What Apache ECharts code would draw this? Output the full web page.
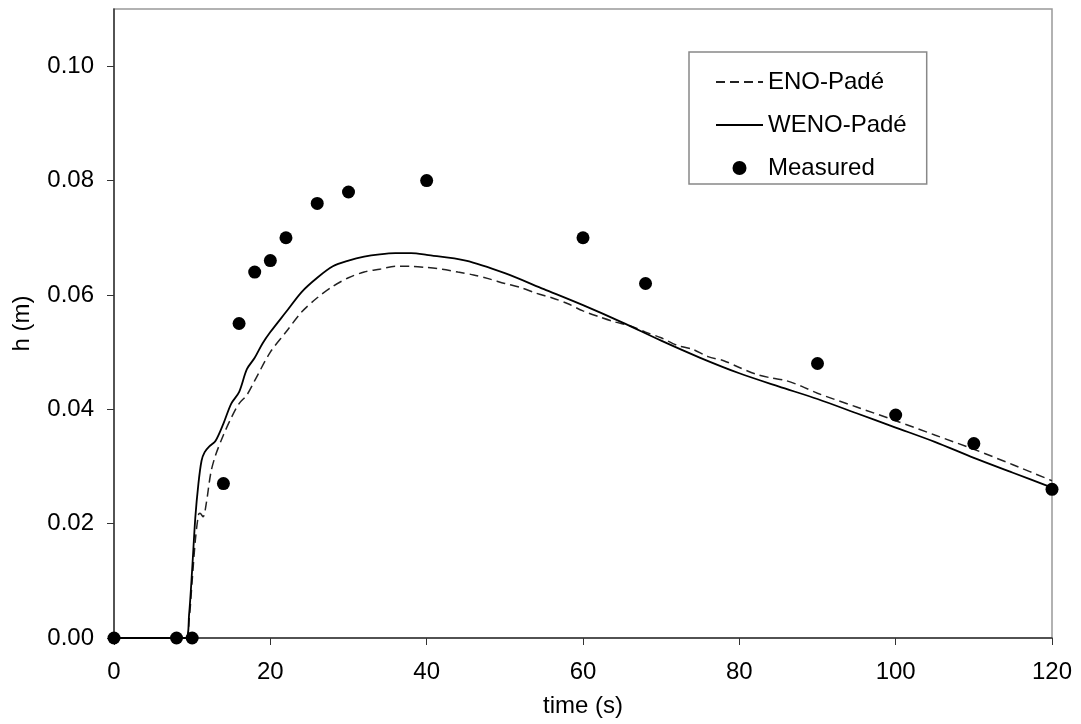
<!DOCTYPE html>
<html>
<head>
<meta charset="utf-8">
<script src="https://cdn.jsdelivr.net/npm/echarts@6/dist/echarts.min.js"></script>
<style>html,body{margin:0;padding:0;background:#fff}#c{width:1081px;height:724px}</style>
</head>
<body>
<div id="c"></div>
<script>
const xTicks = [0, 20, 40, 60, 80, 100, 120];
const yTicks = [0, 0.02, 0.04, 0.06, 0.08, 0.10];

const enoTime = [0, 9.2, 9.6, 10.0, 10.4, 10.8, 11.0, 11.4, 11.8, 12.4, 13.0, 14.0, 15.0, 16.0, 17.0, 18, 20, 22, 24, 26, 28, 30, 32, 34, 36, 38, 40, 42, 44, 46, 48, 50, 52, 54, 56, 58, 60, 62, 64, 66, 68, 70, 72, 74, 76, 78, 80, 82, 84, 86, 88, 90, 95, 100, 105, 110, 115, 120];
const enoH = [0, 0, 0.003, 0.010, 0.017, 0.0215, 0.0218, 0.0212, 0.0235, 0.029, 0.032, 0.0355, 0.0385, 0.041, 0.0425, 0.045, 0.050, 0.0535, 0.057, 0.0595, 0.0615, 0.063, 0.064, 0.0645, 0.065, 0.065, 0.0648, 0.0645, 0.064, 0.0635, 0.0628, 0.0620, 0.0613, 0.0603, 0.0595, 0.0585, 0.0572, 0.0562, 0.0553, 0.0546, 0.0535, 0.0525, 0.0512, 0.0505, 0.0492, 0.0485, 0.0473, 0.0462, 0.0455, 0.0450, 0.0440, 0.0428, 0.0404, 0.038, 0.0355, 0.0330, 0.0303, 0.0275];

const wenoTime = [0, 9.2, 9.6, 10.0, 10.4, 10.8, 11.2, 11.6, 12.2, 13.0, 14.0, 15.0, 16.0, 17.0, 18.0, 19.0, 20, 22, 24, 26, 28, 30, 32, 34, 36, 38, 40, 45, 50, 55, 60, 65, 70, 75, 80, 85, 90, 95, 100, 105, 110, 115, 120];
const wenoH = [0, 0, 0.004, 0.012, 0.021, 0.027, 0.031, 0.0325, 0.0335, 0.0345, 0.0375, 0.041, 0.043, 0.047, 0.049, 0.0515, 0.0535, 0.057, 0.0605, 0.063, 0.065, 0.066, 0.0667, 0.0671, 0.0673, 0.0673, 0.0670, 0.0660, 0.0638, 0.0610, 0.0582, 0.0552, 0.0520, 0.0490, 0.0463, 0.0440, 0.0418, 0.0393, 0.0368, 0.0343, 0.0315, 0.0289, 0.0263];

const measTime = [0, 8, 10, 14, 16, 18, 20, 22, 26, 30, 40, 60, 68, 90, 100, 110, 120];
const measH = [0, 0, 0, 0.027, 0.055, 0.064, 0.066, 0.070, 0.076, 0.078, 0.080, 0.070, 0.062, 0.048, 0.039, 0.034, 0.026];

const zip = (a, b) => a.map((v, i) => [v, b[i]]);
const FONT = "'Liberation Sans', Arial, sans-serif";

const chart = echarts.init(document.getElementById('c'), null, {renderer: 'canvas'});
chart.setOption({
  animation: false,
  backgroundColor: '#fff',
  textStyle: {fontFamily: FONT},
  grid: {left: 114, top: 9, right: 29, bottom: 86, show: true, borderColor: '#999', borderWidth: 1.5, backgroundColor: 'transparent'},
  xAxis: {
    type: 'value', min: 0, max: 120, interval: 20,
    name: 'time (s)', nameLocation: 'middle', nameGap: 56,
    nameTextStyle: {fontSize: 24, color: '#000', fontFamily: FONT},
    axisLine: {show: true, lineStyle: {color: '#333', width: 1.5}},
    axisTick: {show: true, inside: false, length: 7, lineStyle: {color: '#333', width: 1}, customValues: xTicks},
    axisLabel: {fontSize: 24, color: '#000', margin: 22, fontFamily: FONT, customValues: xTicks},
    splitLine: {show: false}
  },
  yAxis: {
    type: 'value', min: 0, max: 0.11, interval: 0.02,
    name: 'h (m)', nameLocation: 'middle', nameGap: 80, nameRotate: 90,
    nameTextStyle: {fontSize: 24, color: '#000', fontFamily: FONT},
    axisLine: {show: true, lineStyle: {color: '#333', width: 1.5}},
    axisTick: {show: true, inside: false, length: 7, lineStyle: {color: '#333', width: 1}, customValues: yTicks},
    axisLabel: {fontSize: 24, color: '#000', margin: 20, fontFamily: FONT, customValues: yTicks,
      formatter: v => v.toFixed(2)},
    splitLine: {show: false}
  },
  legend: {
    orient: 'vertical', left: 689, top: 52,
    padding: [18, 20, 4, 26],
    itemWidth: 47, itemHeight: 14, itemGap: 19,
    borderColor: '#888', borderWidth: 1.5, backgroundColor: '#fff',
    textStyle: {fontSize: 24, color: '#000', fontFamily: FONT, lineHeight: 24},
    data: [
      {name: 'ENO-Padé', itemStyle: {opacity: 0}},
      {name: 'WENO-Padé', itemStyle: {opacity: 0}},
      {name: 'Measured', icon: 'circle', itemStyle: {opacity: 1, color: '#000'}}
    ]
  },
  series: [
    {
      name: 'ENO-Padé', type: 'line', data: zip(enoTime, enoH),
      showSymbol: false, symbol: 'none', smooth: 0.3,
      lineStyle: {color: '#222', width: 1.5, type: [9, 5]},
      itemStyle: {color: '#222'}, z: 2
    },
    {
      name: 'WENO-Padé', type: 'line', data: zip(wenoTime, wenoH),
      showSymbol: false, symbol: 'none', smooth: 0.3,
      lineStyle: {color: '#000', width: 1.8, type: 'solid'},
      itemStyle: {color: '#000'}, z: 3
    },
    {
      name: 'Measured', type: 'scatter', data: zip(measTime, measH),
      symbol: 'circle', symbolSize: 13,
      itemStyle: {color: '#000', opacity: 1}, z: 4
    }
  ]
});
</script>
</body>
</html>
